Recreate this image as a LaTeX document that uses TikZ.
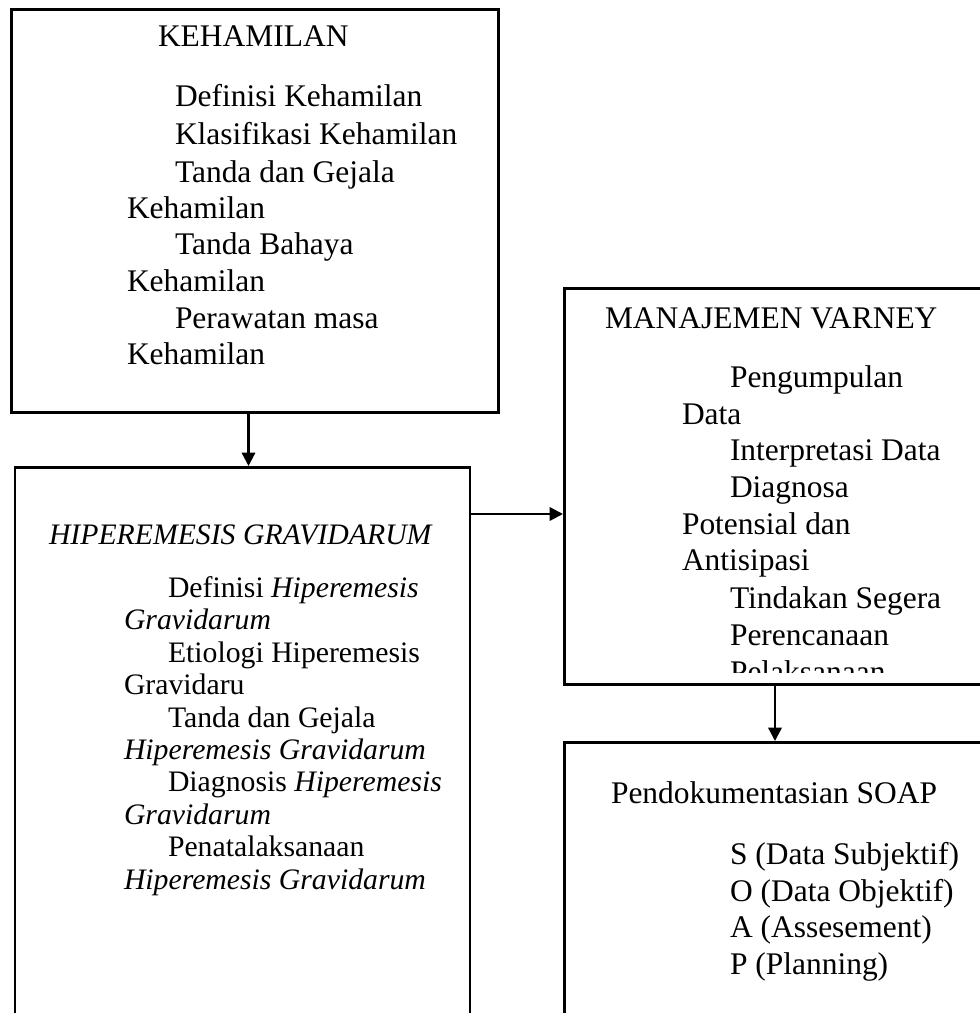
\documentclass[tikz,border=0pt]{standalone}
\usepackage{fontspec}
\setmainfont{Liberation Serif}
\usetikzlibrary{arrows.meta}
\newcommand\fa{\fontsize{23.6}{28}\selectfont}
\newcommand\fb{\fontsize{22.3}{26}\selectfont}
\tikzset{
  box/.style={draw=black, line width=1.9pt, anchor=north west, inner sep=0pt, fill=none},
  txt/.style={anchor=base west, inner sep=0pt, outer sep=0pt, font=\fa},
  txtb/.style={anchor=base west, inner sep=0pt, outer sep=0pt, font=\fb},
  arr/.style={line width=1.7pt, -{Triangle[length=10pt,width=10pt]}}
}
\begin{document}
\begin{tikzpicture}[x=0.75pt, y=-0.75pt]
\useasboundingbox (0,0) rectangle (980,1013);
\clip (0,0) rectangle (980,1013);
% boxes
\node[box, minimum width=487*0.75pt, minimum height=403*0.75pt] (keh) at (10,8) {};
\node[box, minimum width=455*0.75pt, minimum height=600*0.75pt] (hip) at (13.5,466) {};
\node[box, minimum width=440*0.75pt, minimum height=396*0.75pt] (var) at (563,287) {};
\node[box, minimum width=440*0.75pt, minimum height=300*0.75pt] (soap) at (563,741) {};
% box 1 text
\node[txt] (k0) at (158,47) {KEHAMILAN};
\node[txt] (k1) at (175,107) {Definisi Kehamilan};
\node[txt] (k2) at (175,145) {Klasifikasi Kehamilan};
\node[txt] (k3) at (175,182) {Tanda dan Gejala};
\node[txt] (k4) at (127,218) {Kehamilan};
\node[txt] (k5) at (175,254) {Tanda Bahaya};
\node[txt] (k6) at (127,291) {Kehamilan};
\node[txt] (k7) at (175,328) {Perawatan masa};
\node[txt] (k8) at (127,364) {Kehamilan};
% box 2 text
\node[txtb] (h0) at (49,544) {\itshape HIPEREMESIS GRAVIDARUM};
\node[txtb] (h1) at (168,597) {Definisi \textit{Hiperemesis}};
\node[txtb] (h2) at (124,629) {\itshape Gravidarum};
\node[txtb] (h3) at (168,662) {Etiologi Hiperemesis};
\node[txtb] (h4) at (124,694) {Gravidaru};
\node[txtb] (h5) at (168,727) {Tanda dan Gejala};
\node[txtb] (h6) at (124,759) {\itshape Hiperemesis Gravidarum};
\node[txtb] (h7) at (168,791) {Diagnosis \textit{Hiperemesis}};
\node[txtb] (h8) at (124,824) {\itshape Gravidarum};
\node[txtb] (h9) at (168,856) {Penatalaksanaan};
\node[txtb] (h10) at (124,889) {\itshape Hiperemesis Gravidarum};
% box 3 text
\node[txt] (v0) at (605,328) {MANAJEMEN VARNEY};
\node[txt] (v1) at (730,387) {Pengumpulan};
\node[txt] (v2) at (682,424) {Data};
\node[txt] (v3) at (730,460) {Interpretasi Data};
\node[txt] (v4) at (730,497) {Diagnosa};
\node[txt] (v5) at (682,534) {Potensial dan};
\node[txt] (v6) at (682,570) {Antisipasi};
\node[txt] (v7) at (730,608) {Tindakan Segera};
\node[txt] (v8) at (730,645) {Perencanaan};
\begin{scope}
\clip (565,650) rectangle (1000,672);
\node[txt] (v9) at (730,682) {Pelaksanaan};
\end{scope}
% box 4 text
\node[txt] (s0) at (611,803) {Pendokumentasian SOAP};
\node[txt] (s1) at (730,864) {S (Data Subjektif)};
\node[txt] (s2) at (730,901) {O (Data Objektif)};
\node[txt] (s3) at (730,937) {A (Assesement)};
\node[txt] (s4) at (730,974) {P (Planning)};
% connectors
\coordinate (c1) at (248.5,0);
\coordinate (c2) at (0,514);
\coordinate (c3) at (775,0);
\draw[arr] (keh.south -| c1) -- (hip.north -| c1);
\draw[arr] (hip.east |- c2) -- (var.west |- c2);
\draw[arr] ([yshift=1.5pt]var.south -| c3) -- (soap.north -| c3);
\end{tikzpicture}
\end{document}
